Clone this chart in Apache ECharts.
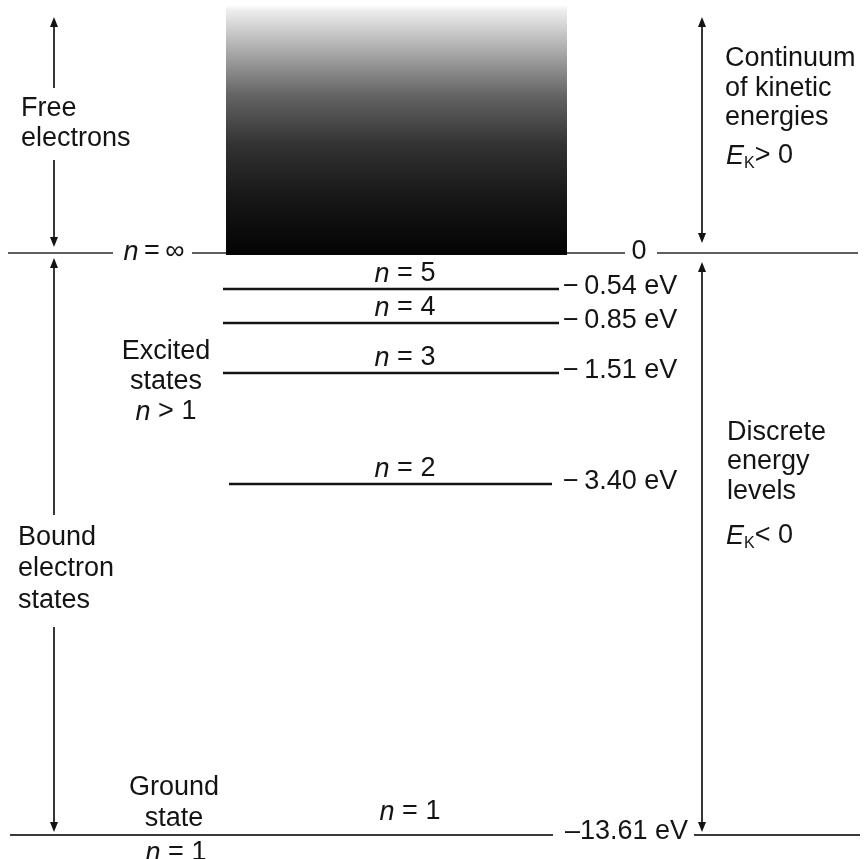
<!DOCTYPE html>
<html>
<head>
<meta charset="utf-8">
<script src="https://cdn.jsdelivr.net/npm/echarts@6/dist/echarts.min.js"></script>
<style>html,body{margin:0;padding:0;background:#fff}#c{width:864px;height:859px}</style>
</head>
<body>
<div id="c"></div>
<script>
// ---------------- data ----------------
// hydrogen energy levels
const levelN = [5, 4, 3, 2, 1];
const levelEnergyEV = [-0.54, -0.85, -1.51, -3.40, -13.61];
// drawn depth of each level below the n = ∞ (E = 0) line; the figure is schematic, not to scale
const levelDrawnDepth = [36, 70, 120, 231, 582];
const ionisationEnergyEV = 0;

// ---------------- layout / style ----------------
const W = 864, H = 859;
const ZERO_Y = 253;                 // pixel row of the E = 0 line
const TOP_DEPTH = -236;             // arrow tips at the top
const BLOCK_TOP_DEPTH = -248;       // top of the continuum shading
const FONT = '"Liberation Sans", Arial, Helvetica, sans-serif';
const INK = '#141414';
const FS = 27;

function fmtEnergy(v, ground) {
  const s = Math.abs(v).toFixed(2) + ' eV';
  return ground ? '\u2013' + s : '\u2212\u2009' + s;
}
function T(x, y, text, extra) {
  return {
    type: 'text', x: x, y: y, silent: true,
    style: Object.assign({
      text: text, fill: INK, fontSize: FS, fontFamily: FONT,
      align: 'left', verticalAlign: 'middle', textAlign: 'left', textVerticalAlign: 'middle'
    }, extra || {})
  };
}
const RICH = {
  i: { fontStyle: 'italic', fontSize: FS, fontFamily: FONT, fill: INK },
  r: { fontSize: FS, fontFamily: FONT, fill: INK },
  ei: { fontStyle: 'italic', fontSize: FS, fontFamily: FONT, fill: INK, lineHeight: 32 },
  k: { fontSize: 16, fontFamily: FONT, fill: INK, verticalAlign: 'bottom', lineHeight: 32 },
  rr: { fontSize: FS, fontFamily: FONT, fill: INK, lineHeight: 32 }
};
function seg(x1, y1, x2, y2, w, c) {
  return { type: 'line', silent: true, shape: { x1: x1, y1: y1, x2: x2, y2: y2 },
           style: { stroke: c || INK, lineWidth: w || 1.6 } };
}
function arrow(x, y1, y2, headTop, headBottom) {
  const hw = 4, hl = 10, out = [];
  out.push(seg(x, headTop ? y1 + 4 : y1, x, headBottom ? y2 - 4 : y2, 1.7));
  if (headTop) out.push({ type: 'polygon', silent: true, shape: { points: [[x, y1], [x - hw, y1 + hl], [x + hw, y1 + hl]] }, style: { fill: INK } });
  if (headBottom) out.push({ type: 'polygon', silent: true, shape: { points: [[x, y2], [x - hw, y2 - hl], [x + hw, y2 - hl]] }, style: { fill: INK } });
  return out;
}

const chart = echarts.init(document.getElementById('c'), null, { renderer: 'canvas' });

const levelData = levelN.map((n, i) => [i, levelDrawnDepth[i], levelEnergyEV[i], n]);

const option = {
  backgroundColor: '#ffffff',
  animation: false,
  grid: { left: 0, right: 0, top: 0, bottom: 0 },
  xAxis: { type: 'value', min: 0, max: W, show: false },
  yAxis: { type: 'value', min: -ZERO_Y, max: H - ZERO_Y, inverse: true, show: false },
  series: [
    {
      // continuum, E = 0 line, range arrows and captions
      type: 'custom',
      name: 'frame',
      data: [[0, ionisationEnergyEV]],
      encode: { x: 0, y: 1 },
      z: 1,
      renderItem: function (params, api) {
        const y0 = api.coord([0, ionisationEnergyEV])[1];
        const yTop = api.coord([0, TOP_DEPTH])[1];
        const yBlock = api.coord([0, BLOCK_TOP_DEPTH])[1];
        const yG = api.coord([0, levelDrawnDepth[levelDrawnDepth.length - 1]])[1];
        const bx0 = api.coord([226, 0])[0], bx1 = api.coord([567, 0])[0];
        const ch = [];
        // E = 0 (n = ∞) line, broken for its labels
        ch.push(seg(8, y0, 113, y0, 1.6, '#2a2a2a'));
        ch.push(seg(192, y0, bx1, y0, 1.6, '#2a2a2a'));
        ch.push(seg(bx1, y0, 625, y0, 1.6, '#2a2a2a'));
        ch.push(seg(657, y0, 858, y0, 1.6, '#2a2a2a'));
        // continuum shading
        ch.push({
          type: 'rect', silent: true,
          shape: { x: bx0, y: yBlock, width: bx1 - bx0, height: y0 + 2 - yBlock },
          style: {
            fill: new echarts.graphic.LinearGradient(0, 0, 0, 1, [
              { offset: 0, color: '#ffffff' },
              { offset: 0.02, color: '#eeeeee' },
              { offset: 0.16, color: '#b4b4b4' },
              { offset: 0.36, color: '#646464' },
              { offset: 0.56, color: '#323232' },
              { offset: 0.76, color: '#181818' },
              { offset: 1, color: '#030303' }
            ])
          }
        });
        ch.push(T(154, y0 - 1, '{i|n}{r|\u2009=\u2009\u221E}', { align: 'center', textAlign: 'center', rich: RICH }));
        ch.push(T(639, y0 - 1, '0', { align: 'center', textAlign: 'center' }));
        // left arrows
        const xl = 54;
        ch.push.apply(ch, arrow(xl, yTop, 88, true, false));
        ch.push.apply(ch, arrow(xl, 160, y0 - 6, false, true));
        ch.push.apply(ch, arrow(xl, y0 + 5, 515, true, false));
        ch.push.apply(ch, arrow(xl, 627, yG - 3, false, true));
        // right arrows
        const xr = 702;
        ch.push.apply(ch, arrow(xr, yTop, y0 - 10, true, true));
        ch.push.apply(ch, arrow(xr, y0 + 9, yG - 3, true, true));
        // captions
        ch.push(T(21, 124, 'Free\nelectrons', { lineHeight: 30 }));
        ch.push(T(18, 569, 'Bound\nelectron\nstates', { lineHeight: 31.5 }));
        ch.push(T(166, 367, 'Excited\nstates', { lineHeight: 30, align: 'center', textAlign: 'center' }));
        ch.push(T(166, 412, '{i|n}{r| > 1}', { align: 'center', textAlign: 'center', rich: RICH }));
        ch.push(T(174, 803, 'Ground\nstate', { lineHeight: 31, align: 'center', textAlign: 'center' }));
        ch.push(T(176, 853, '{i|n}{r| = 1}', { align: 'center', textAlign: 'center', rich: RICH }));
        ch.push(T(725, 88.5, 'Continuum\nof kinetic\nenergies', { lineHeight: 29.5 }));
        ch.push(T(726, 156, '{ei|E}{k|K}{rr|> 0}', { rich: RICH }));
        ch.push(T(727, 462, 'Discrete\nenergy\nlevels', { lineHeight: 29.5 }));
        ch.push(T(726, 536, '{ei|E}{k|K}{rr|< 0}', { rich: RICH }));
        return { type: 'group', children: ch };
      }
    },
    {
      // discrete energy levels
      type: 'custom',
      name: 'levels',
      data: levelData,
      encode: { x: 0, y: 1 },
      z: 2,
      renderItem: function (params, api) {
        const depth = api.value(1), e = api.value(2), n = api.value(3);
        const y = api.coord([0, depth])[1];
        const ground = n === 1;
        const ch = [];
        if (ground) {
          ch.push(seg(10, y, 553, y, 2, '#3a3a3a'));
          ch.push(seg(694, y, 860, y, 2, '#3a3a3a'));
          ch.push(T(565, y - 3, fmtEnergy(e, true)));
          ch.push(T(410, y - 23, '{i|n}{r| = ' + n + '}', { align: 'center', textAlign: 'center', rich: RICH }));
        } else {
          const x0 = n === 2 ? 229 : 223;
          const x1 = n === 2 ? 552 : 559;
          ch.push(seg(x0, y, x1, y, 2.6, '#141414'));
          ch.push(T(563, y - 2, fmtEnergy(e, false)));
          ch.push(T(405, y - 15, '{i|n}{r| = ' + n + '}', { align: 'center', textAlign: 'center', rich: RICH }));
        }
        return { type: 'group', children: ch };
      }
    }
  ]
};
chart.setOption(option);
</script>
</body>
</html>
